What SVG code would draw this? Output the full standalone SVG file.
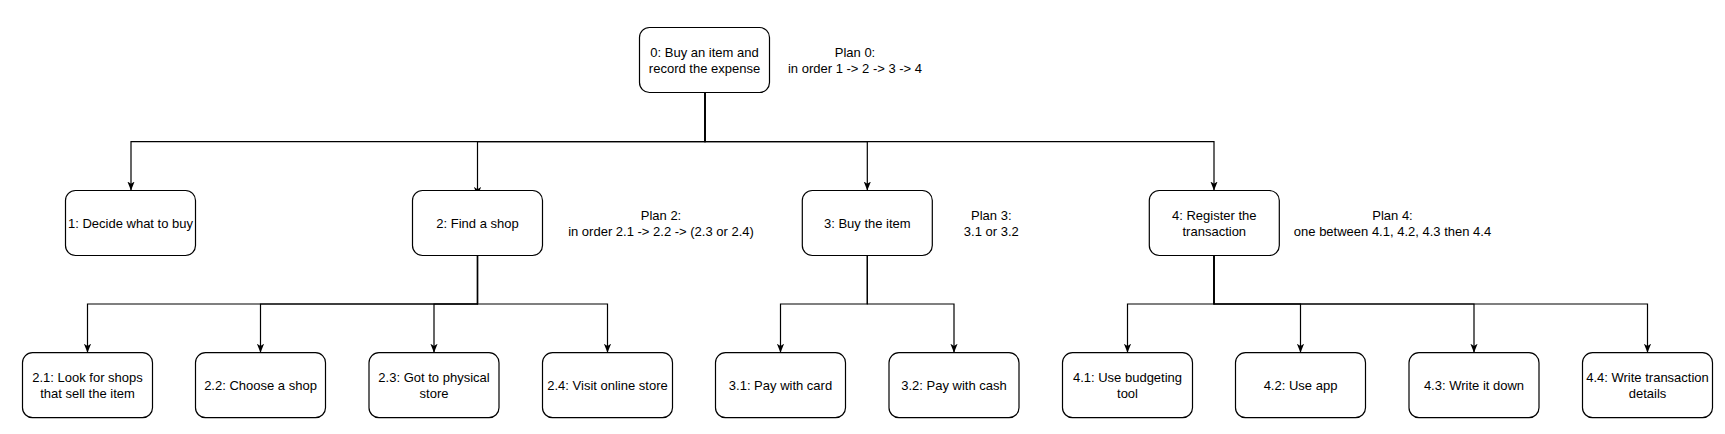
<svg xmlns="http://www.w3.org/2000/svg" width="1725" height="434" viewBox="0 0 1725 434">
<style>
.box{fill:#fff;stroke:#000;stroke-width:1.2}
.t{font-family:"Liberation Sans",Arial,Helvetica,sans-serif;font-size:13px;fill:#000;text-anchor:middle}
.e{fill:none;stroke:#000;stroke-width:1.2;marker-end:url(#arr)}
</style>
<defs>
<marker id="arr" viewBox="0 0 10 8" refX="10" refY="4" markerWidth="9" markerHeight="7.2" markerUnits="userSpaceOnUse" orient="auto">
<path d="M0,0 L10,4 L0,8 L2.5,4 Z" fill="#000"/>
</marker>
</defs>
<rect width="1725" height="434" fill="#fff"/>
<g id="connectors">
<path class="e" d="M705,92.7 V141.7 H131 V190.5"/>
<path class="e" d="M705,92.7 V141.7 H477.5 V196"/>
<path class="e" d="M705,92.7 V141.7 H867.3 V190.5"/>
<path class="e" d="M705,92.7 V141.7 H1214 V190.5"/>
<path class="e" d="M477.5,255.5 V304 H87.5 V352.7"/>
<path class="e" d="M477.5,255.5 V304 H260.5 V352.7"/>
<path class="e" d="M477.5,255.5 V304 H434 V352.7"/>
<path class="e" d="M477.5,255.5 V304 H607.5 V352.7"/>
<path class="e" d="M867.3,255.5 V304 H780.5 V352.7"/>
<path class="e" d="M867.3,255.5 V304 H954 V352.7"/>
<path class="e" d="M1214,255.5 V304 H1127.5 V352.7"/>
<path class="e" d="M1214,255.5 V304 H1300.5 V352.7"/>
<path class="e" d="M1214,255.5 V304 H1474 V352.7"/>
<path class="e" d="M1214,255.5 V304 H1647.5 V352.7"/>
</g>
<g id="n0"><rect class="box" x="639.5" y="27.5" width="130" height="65" rx="10"/>
<text class="t" x="704.5" y="56.5">0: Buy an item and</text><text class="t" x="704.5" y="72.5">record the expense</text></g>
<g id="plan0"><text class="t" x="855" y="56.5">Plan 0:</text><text class="t" x="855" y="72.5">in order 1 -&gt; 2 -&gt; 3 -&gt; 4</text></g>
<g id="n1"><rect class="box" x="65.5" y="190.5" width="130" height="65" rx="10"/>
<text class="t" x="130.5" y="227.5">1: Decide what to buy</text></g>
<g id="n2"><rect class="box" x="412.5" y="190.5" width="130" height="65" rx="10"/>
<text class="t" x="477.5" y="227.5">2: Find a shop</text></g>
<g id="plan2"><text class="t" x="661" y="219.5">Plan 2:</text><text class="t" x="661" y="235.5">in order 2.1 -&gt; 2.2 -&gt; (2.3 or 2.4)</text></g>
<g id="n3"><rect class="box" x="802.3" y="190.5" width="130" height="65" rx="10"/>
<text class="t" x="867.3" y="227.5">3: Buy the item</text></g>
<g id="plan3"><text class="t" x="991.3" y="219.5">Plan 3:</text><text class="t" x="991.3" y="235.5">3.1 or 3.2</text></g>
<g id="n4"><rect class="box" x="1149.3" y="190.5" width="130" height="65" rx="10"/>
<text class="t" x="1214.3" y="219.5">4: Register the</text><text class="t" x="1214.3" y="235.5">transaction</text></g>
<g id="plan4"><text class="t" x="1392.5" y="219.5">Plan 4:</text><text class="t" x="1392.5" y="235.5">one between 4.1, 4.2, 4.3 then 4.4</text></g>
<g id="n21"><rect class="box" x="22.5" y="352.7" width="130" height="65" rx="10"/>
<text class="t" x="87.5" y="381.5">2.1: Look for shops</text><text class="t" x="87.5" y="397.5">that sell the item</text></g>
<g id="n22"><rect class="box" x="195.5" y="352.7" width="130" height="65" rx="10"/>
<text class="t" x="260.5" y="389.5">2.2: Choose a shop</text></g>
<g id="n23"><rect class="box" x="369" y="352.7" width="130" height="65" rx="10"/>
<text class="t" x="434" y="381.5">2.3: Got to physical</text><text class="t" x="434" y="397.5">store</text></g>
<g id="n24"><rect class="box" x="542.5" y="352.7" width="130" height="65" rx="10"/>
<text class="t" x="607.5" y="389.5">2.4: Visit online store</text></g>
<g id="n31"><rect class="box" x="715.5" y="352.7" width="130" height="65" rx="10"/>
<text class="t" x="780.5" y="389.5">3.1: Pay with card</text></g>
<g id="n32"><rect class="box" x="889" y="352.7" width="130" height="65" rx="10"/>
<text class="t" x="954" y="389.5">3.2: Pay with cash</text></g>
<g id="n41"><rect class="box" x="1062.5" y="352.7" width="130" height="65" rx="10"/>
<text class="t" x="1127.5" y="381.5">4.1: Use budgeting</text><text class="t" x="1127.5" y="397.5">tool</text></g>
<g id="n42"><rect class="box" x="1235.5" y="352.7" width="130" height="65" rx="10"/>
<text class="t" x="1300.5" y="389.5">4.2: Use app</text></g>
<g id="n43"><rect class="box" x="1409" y="352.7" width="130" height="65" rx="10"/>
<text class="t" x="1474" y="389.5">4.3: Write it down</text></g>
<g id="n44"><rect class="box" x="1582.5" y="352.7" width="130" height="65" rx="10"/>
<text class="t" x="1647.5" y="381.5">4.4: Write transaction</text><text class="t" x="1647.5" y="397.5">details</text></g>
</svg>
